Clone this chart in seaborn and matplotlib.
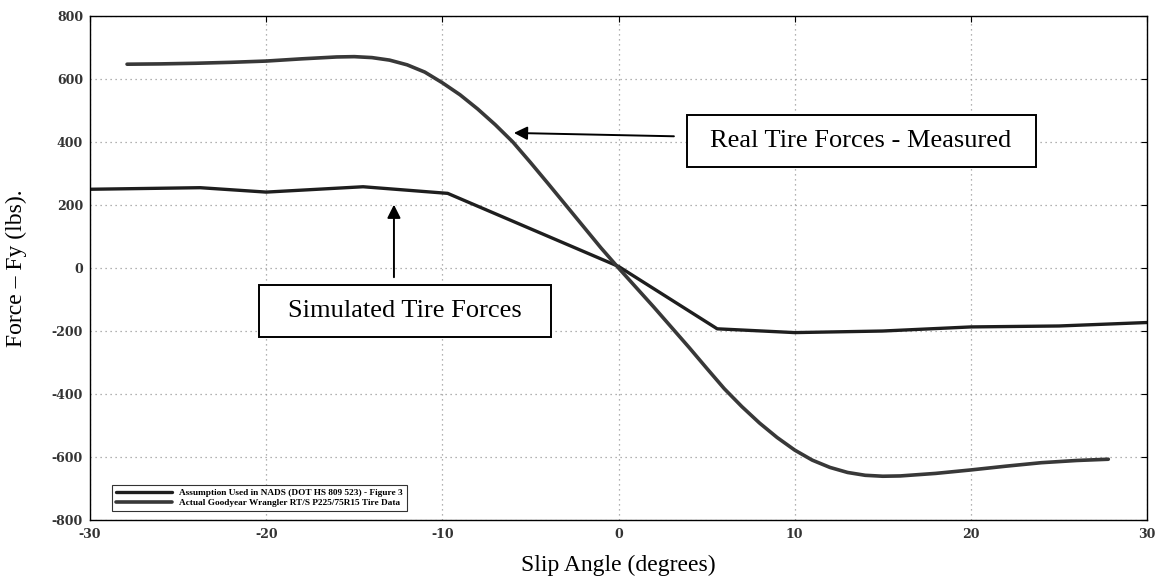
import numpy as np
import pandas as pd
import matplotlib
matplotlib.use("Agg")
import matplotlib.pyplot as plt
from matplotlib.patches import Rectangle
import seaborn as sns

# simulated (NADS assumption) - piecewise linear
sim_angle = [-30, -23.75, -20, -14.5, -9.7, 0, 5.6, 10, 15, 20, 25, 30]
sim_force = [250, 255, 241, 258, 237, 5, -193, -205, -200, -187, -184, -173]

# measured Goodyear Wrangler data
real_angle = [-27.9, -26, -24, -22, -20, -18, -16, -15, -14, -13, -12, -11, -10, -9, -8, -7, -6,
              -5, -4, -3, -2, -1, 0, 1, 2, 3, 4, 5, 6, 7, 8, 9, 10, 11, 12, 13, 14, 15, 16,
              18, 20, 22, 24, 26, 27.8]
real_force = [647, 648, 650, 653, 657, 664, 670, 671, 668, 660, 645, 622, 588, 550, 505, 455, 400,
              335, 268, 200, 132, 64, 0, -62, -124, -188, -252, -318, -383, -440, -492, -538, -578,
              -610, -633, -649, -658, -661, -660, -652, -641, -629, -618, -611, -607]

sim_label = "Assumption Used in NADS (DOT HS 809 523) - Figure 3"
real_label = "Actual Goodyear Wrangler RT/S P225/75R15 Tire Data"

x_ticks = [-30, -20, -10, 0, 10, 20, 30]
y_ticks = [-800, -600, -400, -200, 0, 200, 400, 600, 800]

sns.set_style("white")
plt.rcParams['font.family'] = ['Liberation Serif', 'DejaVu Serif']
plt.rcParams['axes.unicode_minus'] = False
plt.rcParams['text.color'] = 'black'
plt.rcParams['axes.labelcolor'] = 'black'

df_sim = pd.DataFrame({'angle': sim_angle, 'force': sim_force})
df_real = pd.DataFrame({'angle': real_angle, 'force': real_force})

fig = plt.figure(figsize=(11.59, 5.78), dpi=100)
ax = fig.add_axes([0.0777, 0.1003, 0.912, 0.872])

sns.lineplot(data=df_sim, x='angle', y='force', ax=ax, color='#1e1e1e', lw=2.4, label=sim_label)
sns.lineplot(data=df_real, x='angle', y='force', ax=ax, color='#383838', lw=2.6, label=real_label)

ax.set_xlim(-30, 30)
ax.set_ylim(-800, 800)
ax.set_xticks(x_ticks)
ax.set_yticks(y_ticks)
ax.grid(True, color='#999999', linestyle=(0, (1, 3)), linewidth=0.9)
for s in ax.spines.values():
    s.set_color('black')
    s.set_linewidth(1.0)
ax.tick_params(direction='in', length=4, top=True, right=True, color='black')
for lab in ax.get_xticklabels() + ax.get_yticklabels():
    lab.set_fontsize(9)
    lab.set_family('DejaVu Serif')
    lab.set_fontweight('bold')
    lab.set_color('#333333')
ax.tick_params(axis='x', pad=6)
ax.tick_params(axis='y', pad=5)

ax.set_xlabel("Slip Angle (degrees)", fontsize=17, labelpad=10)
ax.set_ylabel("Force \u2013 Fy (lbs).", fontsize=17, labelpad=18)

leg = ax.legend(loc='lower left', bbox_to_anchor=(0.021, 0.018), borderaxespad=0,
                handlelength=6, frameon=True, fancybox=False,
                prop={'weight': 'bold', 'size': 6.7}, borderpad=0.4, labelspacing=0.2)
leg.get_frame().set_edgecolor('black')
leg.get_frame().set_linewidth(0.8)

# label boxes
ax.add_patch(Rectangle((3.86, 321), 19.81, 165, fill=True, fc='white', ec='black', lw=1.4, zorder=5))
ax.text(13.76, 403, "Real Tire Forces - Measured", fontsize=19, ha='center', va='center', zorder=6)
ax.annotate("", xy=(-6.1, 429), xytext=(3.3, 418),
            arrowprops=dict(arrowstyle='-|>', mutation_scale=20, lw=1.4, color='black'))

ax.add_patch(Rectangle((-20.43, -219), 16.57, 165, fill=True, fc='white', ec='black', lw=1.4, zorder=5))
ax.text(-12.15, -136, "Simulated Tire Forces", fontsize=19, ha='center', va='center', zorder=6)
ax.annotate("", xy=(-12.75, 210), xytext=(-12.75, -38),
            arrowprops=dict(arrowstyle='-|>', mutation_scale=20, lw=1.4, color='black'))

fig.savefig("out.png", dpi=100)
